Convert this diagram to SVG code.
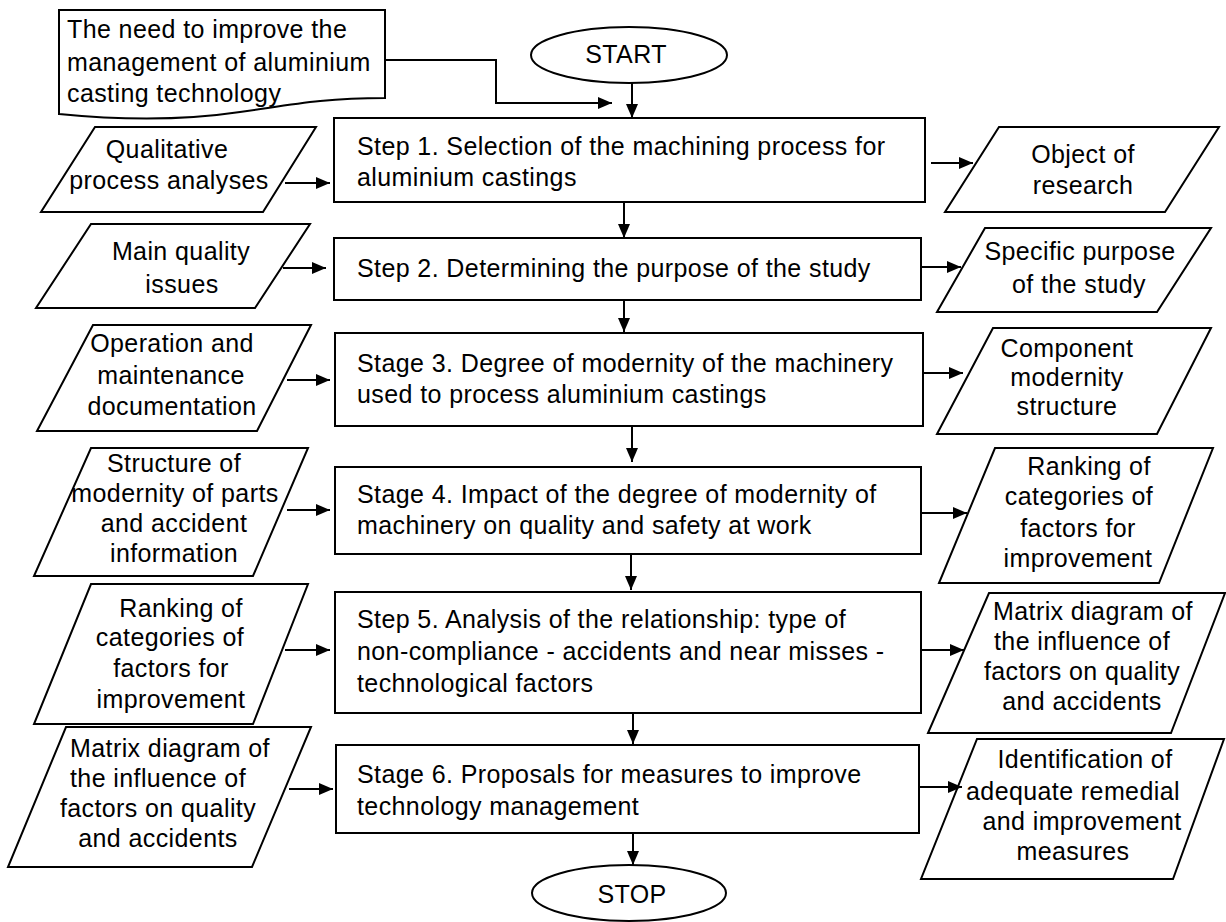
<svg xmlns="http://www.w3.org/2000/svg" width="1226" height="922" viewBox="0 0 1226 922">
<style>
.s{fill:#fff;stroke:#000;stroke-width:2}
.t{font-family:"Liberation Sans",Arial,sans-serif;font-size:25px;letter-spacing:0.4px;fill:#000}
.c{text-anchor:middle}
.e{fill:none;stroke:#000;stroke-width:2}
</style>
<defs>
<marker id="a" markerUnits="userSpaceOnUse" markerWidth="14" markerHeight="12" refX="14" refY="6" orient="auto"><path d="M0,0 L14,6 L0,12 z" fill="#000"/></marker>
</defs>
<rect width="1226" height="922" fill="#fff"/>
<g id="need">
<path class="s" d="M59,10 H385 V98 C320,98 290,105 240,112 C180,121 120,120 59,114 Z"/>
<text class="t" x="67" y="38">The need to improve the</text>
<text class="t" x="67" y="71">management of aluminium</text>
<text class="t" x="67" y="102">casting technology</text>
</g>
<g id="start">
<ellipse class="s" cx="629" cy="55" rx="98" ry="28"/>
<text class="t c" x="626" y="63">START</text>
</g>
<g id="step1">
<rect class="s" x="334" y="118" width="591" height="84"/>
<text class="t" x="357" y="155">Step 1. Selection of the machining process for</text>
<text class="t" x="357" y="186">aluminium castings</text>
</g>
<g id="in1">
<polygon class="s" points="95,127 316,127 263,212 41,212"/>
<text class="t c" x="167" y="158">Qualitative</text>
<text class="t c" x="169" y="189">process analyses</text>
</g>
<g id="out1">
<polygon class="s" points="999,127 1219,127 1165,212 945,212"/>
<text class="t c" x="1083" y="163">Object of</text>
<text class="t c" x="1083" y="194">research</text>
</g>
<g id="step2">
<rect class="s" x="334" y="238" width="587" height="62"/>
<text class="t" x="357" y="277">Step 2. Determining the purpose of the study</text>
</g>
<g id="in2">
<polygon class="s" points="91,224 310,224 255,308 36,308"/>
<text class="t c" x="181" y="260">Main quality</text>
<text class="t c" x="182" y="293">issues</text>
</g>
<g id="out2">
<polygon class="s" points="985,228 1211,228 1157,312 937,312"/>
<text class="t c" x="1080" y="260">Specific purpose</text>
<text class="t c" x="1079" y="293">of the study</text>
</g>
<g id="stage3">
<rect class="s" x="335" y="333" width="588" height="93"/>
<text class="t" x="357" y="372">Stage 3. Degree of modernity of the machinery</text>
<text class="t" x="357" y="403">used to process aluminium castings</text>
</g>
<g id="in3">
<polygon class="s" points="93,325 311,325 257,431 37,431"/>
<text class="t c" x="172" y="352">Operation and</text>
<text class="t c" x="171" y="384">maintenance</text>
<text class="t c" x="172" y="415">documentation</text>
</g>
<g id="out3">
<polygon class="s" points="993,328 1211,328 1157,434 937,434"/>
<text class="t c" x="1067" y="357">Component</text>
<text class="t c" x="1067" y="386">modernity</text>
<text class="t c" x="1067" y="415">structure</text>
</g>
<g id="stage4">
<rect class="s" x="335" y="467" width="586" height="87"/>
<text class="t" x="357" y="503">Stage 4. Impact of the degree of modernity of</text>
<text class="t" x="357" y="534">machinery on quality and safety at work</text>
</g>
<g id="in4">
<polygon class="s" points="91,448 308,448 253,576 34,576"/>
<text class="t c" x="174" y="472">Structure of</text>
<text class="t c" x="175" y="502">modernity of parts</text>
<text class="t c" x="174" y="532">and accident</text>
<text class="t c" x="174" y="562">information</text>
</g>
<g id="out4">
<polygon class="s" points="995,448 1213,448 1159,583 939,583"/>
<text class="t c" x="1089" y="475">Ranking of</text>
<text class="t c" x="1079" y="505">categories of</text>
<text class="t c" x="1078" y="537">factors for</text>
<text class="t c" x="1078" y="567">improvement</text>
</g>
<g id="step5">
<rect class="s" x="335" y="592" width="586" height="121"/>
<text class="t" x="357" y="628">Step 5. Analysis of the relationship: type of</text>
<text class="t" x="357" y="660">non-compliance - accidents and near misses -</text>
<text class="t" x="357" y="692">technological factors</text>
</g>
<g id="in5">
<polygon class="s" points="91,584 308,584 253,724 34,724"/>
<text class="t c" x="181" y="617">Ranking of</text>
<text class="t c" x="170" y="646">categories of</text>
<text class="t c" x="171" y="677">factors for</text>
<text class="t c" x="171" y="708">improvement</text>
</g>
<g id="out5">
<polygon class="s" points="989,593 1225,593 1171,733 928,733"/>
<text class="t c" x="1093" y="620">Matrix diagram of</text>
<text class="t c" x="1082" y="650">the influence of</text>
<text class="t c" x="1082" y="680">factors on quality</text>
<text class="t c" x="1082" y="710">and accidents</text>
</g>
<g id="stage6">
<rect class="s" x="336" y="745" width="583" height="88"/>
<text class="t" x="357" y="783">Stage 6. Proposals for measures to improve</text>
<text class="t" x="357" y="815">technology management</text>
</g>
<g id="in6">
<polygon class="s" points="66,727 311,727 252,867 8,867"/>
<text class="t c" x="170" y="757">Matrix diagram of</text>
<text class="t c" x="158" y="787">the influence of</text>
<text class="t c" x="158" y="817">factors on quality</text>
<text class="t c" x="158" y="847">and accidents</text>
</g>
<g id="out6">
<polygon class="s" points="977,739 1224,739 1173,879 921,879"/>
<text class="t c" x="1085" y="768">Identification of</text>
<text class="t c" x="1073" y="800">adequate remedial</text>
<text class="t c" x="1082" y="830">and improvement</text>
<text class="t c" x="1073" y="860">measures</text>
</g>
<g id="stop">
<ellipse class="s" cx="629" cy="893" rx="97" ry="28"/>
<text class="t c" x="632" y="903">STOP</text>
</g>
<g id="connectors">
<path class="e" marker-end="url(#a)" d="M385,60 H496 V103 H612"/>
<path class="e" marker-end="url(#a)" d="M632,83 V118"/>
<path class="e" marker-end="url(#a)" d="M285,183 H330"/>
<path class="e" marker-end="url(#a)" d="M931,163 H973"/>
<path class="e" marker-end="url(#a)" d="M624,202 V238"/>
<path class="e" marker-end="url(#a)" d="M283,268 H326"/>
<path class="e" marker-end="url(#a)" d="M921,267 H961"/>
<path class="e" marker-end="url(#a)" d="M624,300 V332"/>
<path class="e" marker-end="url(#a)" d="M287,380 H330"/>
<path class="e" marker-end="url(#a)" d="M923,373 H963"/>
<path class="e" marker-end="url(#a)" d="M632,426 V462"/>
<path class="e" marker-end="url(#a)" d="M287,510 H330"/>
<path class="e" marker-end="url(#a)" d="M921,513 H967"/>
<path class="e" marker-end="url(#a)" d="M631,554 V590"/>
<path class="e" marker-end="url(#a)" d="M285,650 H330"/>
<path class="e" marker-end="url(#a)" d="M921,650 H964"/>
<path class="e" marker-end="url(#a)" d="M633,713 V744"/>
<path class="e" marker-end="url(#a)" d="M289,789 H333"/>
<path class="e" marker-end="url(#a)" d="M919,787 H962"/>
<path class="e" marker-end="url(#a)" d="M633,833 V865"/>
</g>
</svg>
